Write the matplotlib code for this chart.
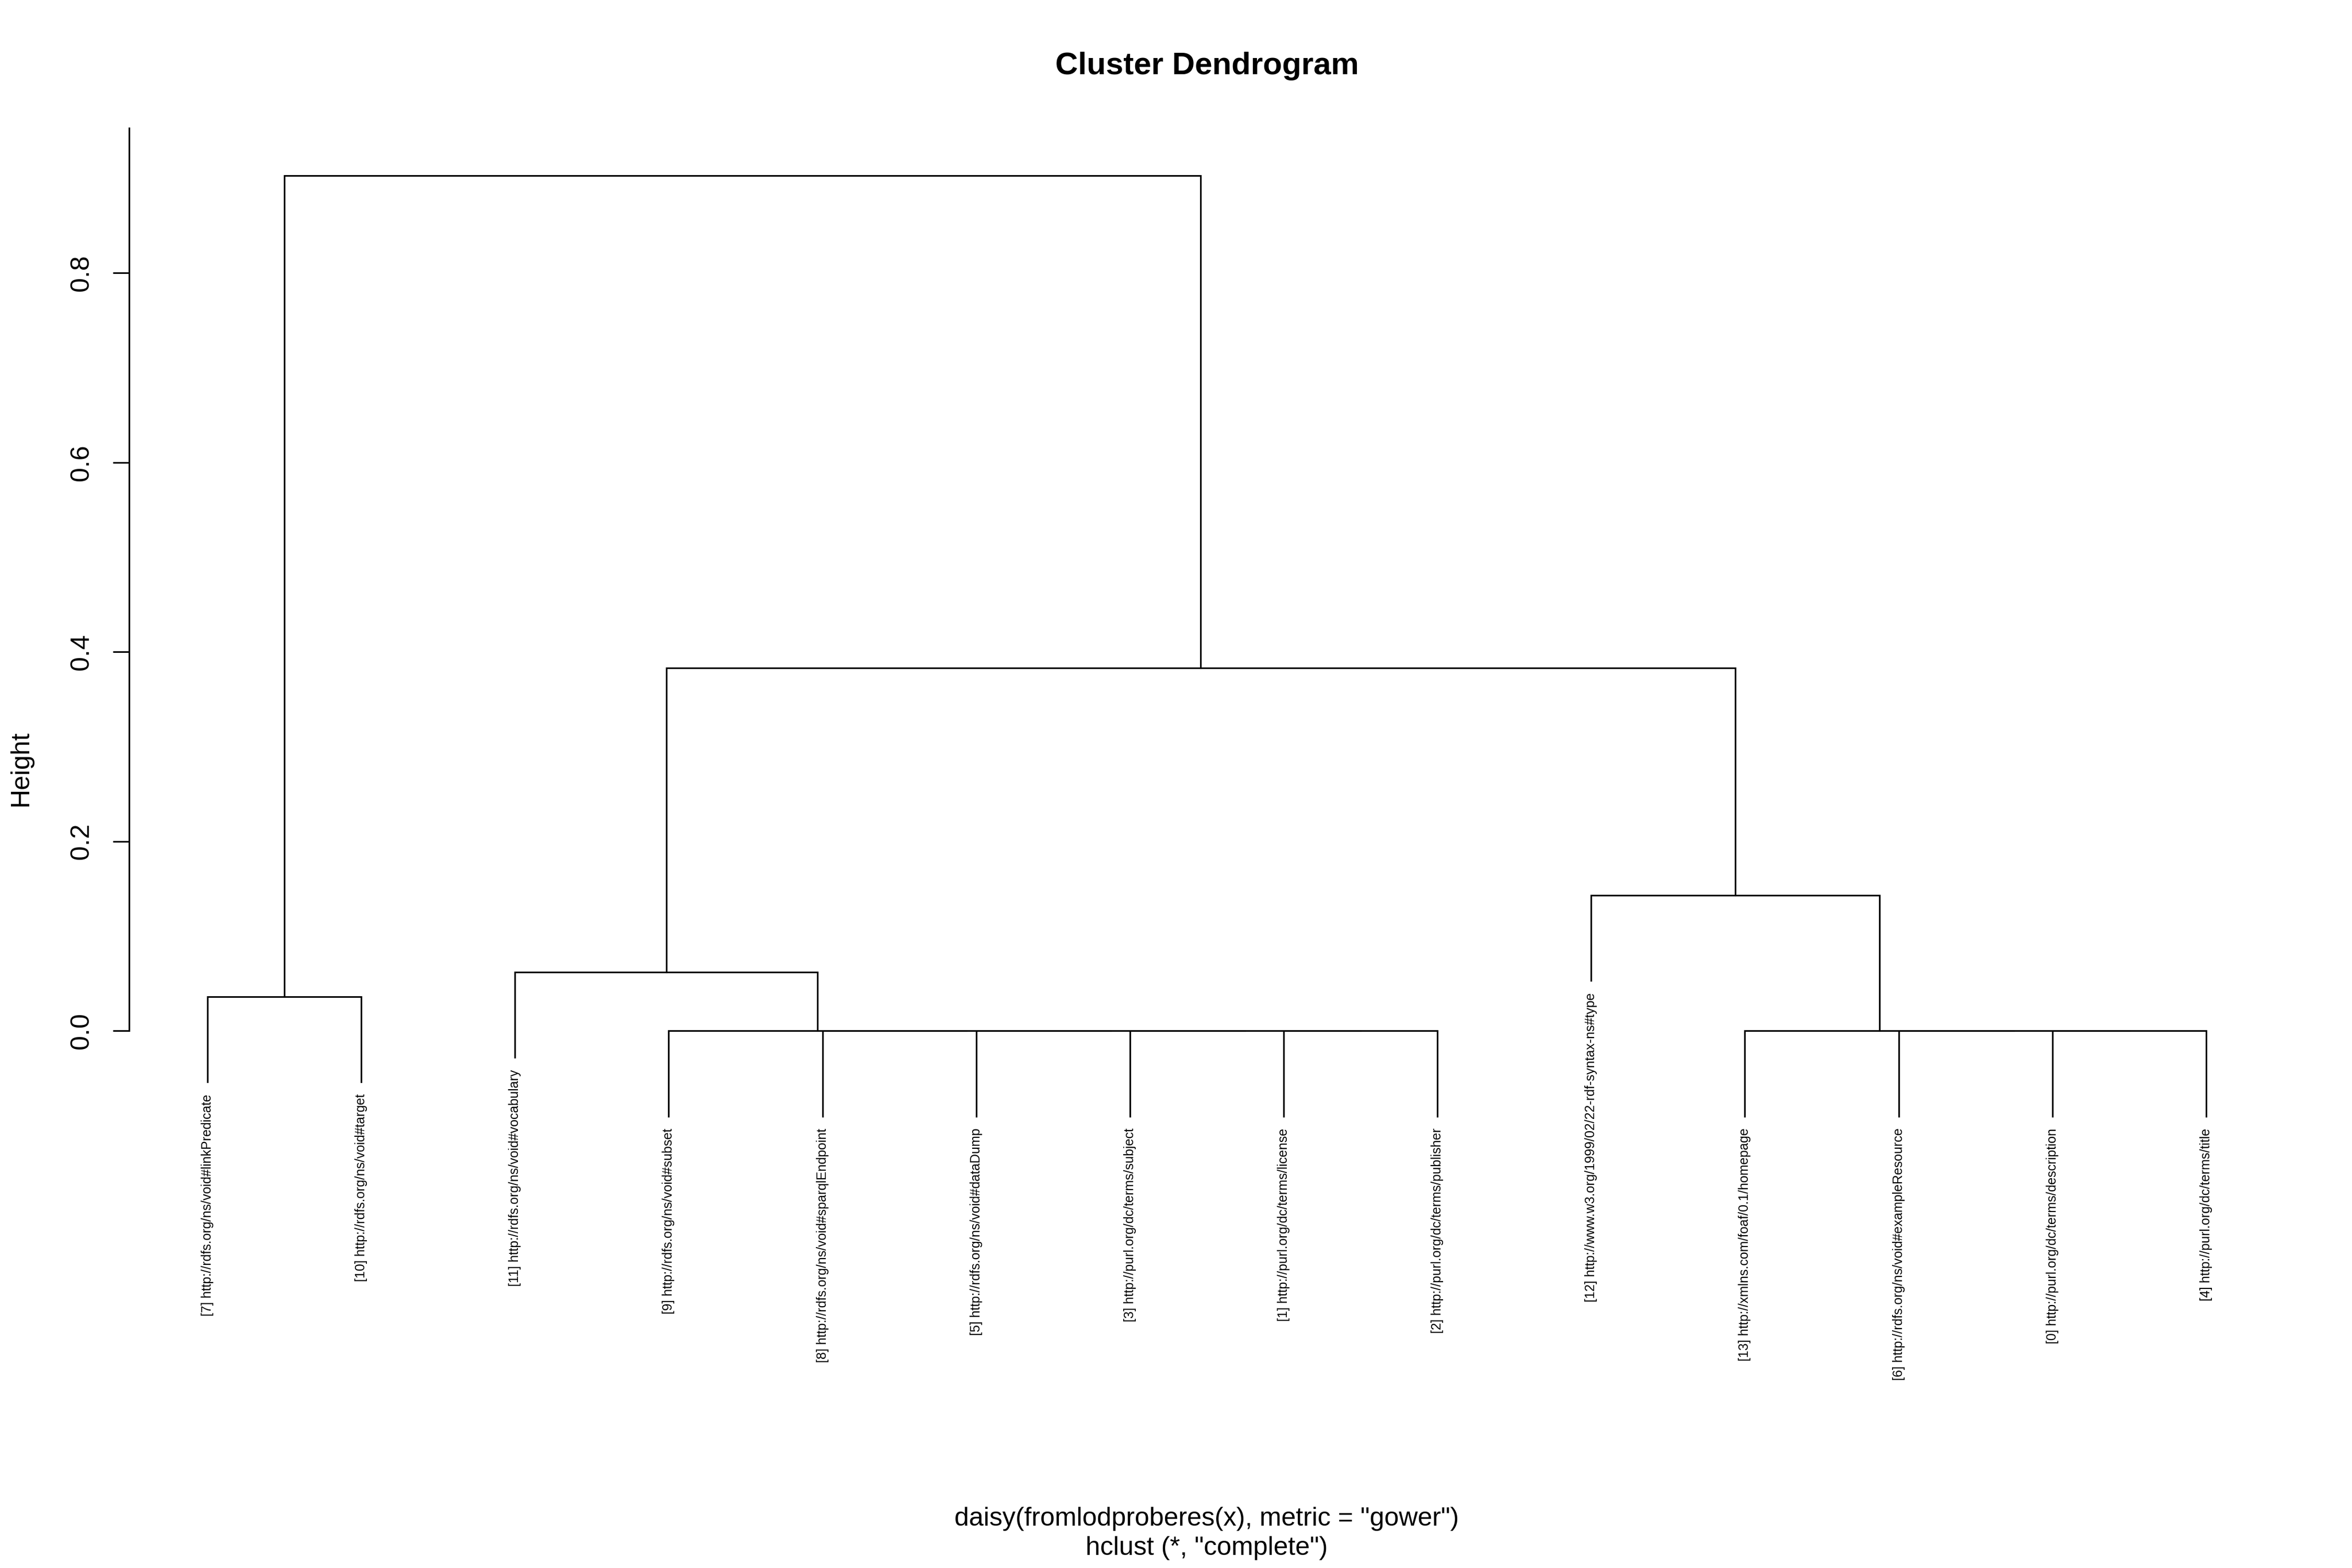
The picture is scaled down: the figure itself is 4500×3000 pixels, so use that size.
import matplotlib
matplotlib.use("Agg")
import matplotlib.pyplot as plt

plt.rcParams["font.family"] = ["Liberation Sans", "DejaVu Sans"]

# leaf labels, left to right as drawn
leaf_labels = [
    "[7] http://rdfs.org/ns/void#linkPredicate",
    "[10] http://rdfs.org/ns/void#target",
    "[11] http://rdfs.org/ns/void#vocabulary",
    "[9] http://rdfs.org/ns/void#subset",
    "[8] http://rdfs.org/ns/void#sparqlEndpoint",
    "[5] http://rdfs.org/ns/void#dataDump",
    "[3] http://purl.org/dc/terms/subject",
    "[1] http://purl.org/dc/terms/license",
    "[2] http://purl.org/dc/terms/publisher",
    "[12] http://www.w3.org/1999/02/22-rdf-syntax-ns#type",
    "[13] http://xmlns.com/foaf/0.1/homepage",
    "[6] http://rdfs.org/ns/void#exampleResource",
    "[0] http://purl.org/dc/terms/description",
    "[4] http://purl.org/dc/terms/title",
]

# hclust-style merges: negative = leaf -(i+1) in the order above, positive = merge number (1-based)
merge_left = [-8, -7, -6, -5, -4, -13, -12, -11, -1, -3, -10, 10, 9]
merge_right = [-9, 1, 2, 3, 4, -14, 6, 7, -2, 5, 8, 11, 12]
merge_height = [0.0, 0.0, 0.0, 0.0, 0.0, 0.0, 0.0, 0.0, 0.036, 0.062, 0.143, 0.383, 0.903]

yticks = [0.0, 0.2, 0.4, 0.6, 0.8]
title = "Cluster Dendrogram"
sub_lines = 'daisy(fromlodproberes(x), metric = "gower")\nhclust (*, "complete")'

hang = 0.1 * max(merge_height)
lw = 0.75

# x position of each merge node = midpoint of its children
node_x = {}


def child_x(ref):
    if ref < 0:
        return float(-ref)  # leaves sit at 1..n
    return node_x[ref]


for k, (a, b) in enumerate(zip(merge_left, merge_right), start=1):
    node_x[k] = (child_x(a) + child_x(b)) / 2

fig = plt.figure(figsize=(15, 10), dpi=300)
# placed by hand to line up with the reference layout
ax = fig.add_axes([0.0549, 0.2823, 0.9164, 0.636])

for k, (a, b, h) in enumerate(zip(merge_left, merge_right, merge_height), start=1):
    xs, ys = [], []
    for i, ref in enumerate((a, b)):
        x = child_x(ref)
        y = h - hang if ref < 0 else merge_height[ref - 1]
        if i == 0:
            xs += [x, x]
            ys += [y, h]
        else:
            xs += [x, x]
            ys += [h, y]
        if ref < 0:
            ax.annotate(leaf_labels[-ref - 1], (x, h - hang), xytext=(0, -5.5),
                        textcoords="offset points", rotation=90, ha="center",
                        va="top", fontsize=6, annotation_clip=False)
    ax.plot(xs, ys, color="black", lw=lw, solid_joinstyle="miter", clip_on=False)

ax.set_xlim(0.49, len(leaf_labels) + 0.51)
ax.set_ylim(-0.1, 0.953)

for side in ["top", "right", "bottom"]:
    ax.spines[side].set_visible(False)
ax.spines["left"].set_bounds(0, 0.953)
ax.spines["left"].set_linewidth(lw)
ax.set_xticks([])
ax.set_yticks(yticks)
ax.set_yticklabels([f"{v:.1f}" for v in yticks], rotation=90, va="center", fontsize=12)
ax.tick_params(axis="y", length=7.4, width=lw, pad=9)

fig.text(2309 / 4500, 1 - 126 / 3000, title, ha="center", va="center",
         fontsize=14.4, fontweight="bold")
fig.text(40 / 4500, 1 - 1470 / 3000, "Height", rotation=90, ha="center",
         va="center", fontsize=12)
fig.text(2309 / 4500, 1 - 2934 / 3000, sub_lines, ha="center", va="center",
         fontsize=12, linespacing=1.3)

fig.savefig("out.png", dpi=300, facecolor="white")
